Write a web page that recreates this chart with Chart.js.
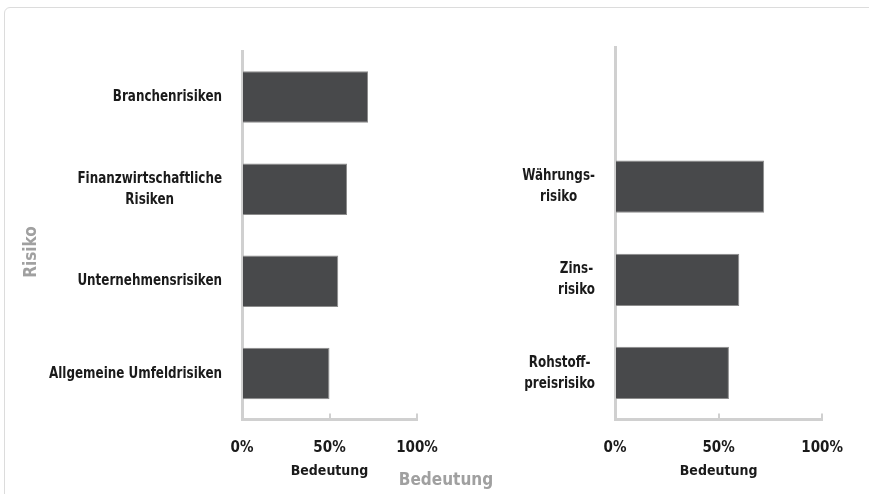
<!DOCTYPE html>
<html lang="de">
<head>
<meta charset="utf-8">
<title>Risiko und Bedeutung</title>
<script src="https://cdn.jsdelivr.net/npm/chart.js@4.4.1/dist/chart.umd.min.js"></script>
<style>
  html, body { margin: 0; padding: 0; background: #fff; }
  body {
    width: 869px; height: 494px; position: relative; overflow: hidden;
    font-family: 'Liberation Sans Narrow', 'DejaVu Sans Condensed', sans-serif;
  }
  .frame {
    position: absolute; left: 4px; top: 7px; width: 900px; height: 600px;
    border: 1px solid #dcdcdc; border-radius: 6px;
  }
  canvas { position: absolute; left: 0; top: 0; }
  .axis-title { position: absolute; color: #a0a0a0; font-weight: bold; text-align: center; white-space: nowrap; }
  #risiko {
    left: -20px; top: 242px; width: 100px; height: 20px; line-height: 20px;
    font-size: 17px; transform: rotate(-90deg);
  }
  #bedeutung { left: 346px; top: 468px; width: 200px; line-height: 22px; font-size: 17px; }
</style>
</head>
<body>
<div class="frame"></div>
<canvas id="leftChart" width="869" height="494" style="width:869px;height:494px"></canvas>
<canvas id="rightChart" width="869" height="494" style="width:869px;height:494px"></canvas>
<div class="axis-title" id="risiko">Risiko</div>
<div class="axis-title" id="bedeutung">Bedeutung</div>

<script>
// data
const leftCategories = [['Branchenrisiken'], ['Finanzwirtschaftliche', 'Risiken'], ['Unternehmensrisiken'], ['Allgemeine Umfeldrisiken']];
const leftValues = [72, 60, 55, 50];
const rightCategories = [[''], ['Währungs-', 'risiko'], ['Zins-', 'risiko'], ['Rohstoff-', 'preisrisiko']];
const rightValues = [null, 72, 60, 55];
const xTickValues = [0, 50, 100];
const xAxisLabel = 'Bedeutung';

const FONT = "'Liberation Sans Narrow', 'DejaVu Sans Condensed', sans-serif";
const TEXT = '#1a1a1a';
const AXIS = '#d0d0d0';

// category labels: block right-aligned to the axis, lines centred inside the block,
// squeezed a bit horizontally to look like the narrow font of the original
const centeredLabels = {
    id: 'centeredLabels',
    afterDraw(chart) {
        const yScale = chart.scales.y;
        const ctx = chart.ctx;
        const squeeze = 0.83;
        ctx.save();
        ctx.font = 'bold 16px ' + FONT;
        ctx.fillStyle = TEXT;
        ctx.textAlign = 'center';
        ctx.textBaseline = 'middle';
        chart.data.labels.forEach((lines, i) => {
            const widest = Math.max(...lines.map(l => ctx.measureText(l).width)) * squeeze;
            const cx = chart.chartArea.left - 20 - widest / 2;
            const cy = yScale.getPixelForValue(i);
            lines.forEach((line, j) => {
                ctx.save();
                ctx.translate(cx, cy + (j - (lines.length - 1) / 2) * 21);
                ctx.scale(squeeze, 1);
                ctx.fillText(line, 0, 0);
                ctx.restore();
            });
        });
        ctx.restore();
    }
};

function makeChart(id, labels, values, pad, yWidth) {
    return new Chart(document.getElementById(id).getContext('2d'), {
        type: 'bar',
        data: {
            labels: labels,
            datasets: [{
                data: values,
                backgroundColor: '#48494b',
                borderColor: '#8c8c8c',
                borderWidth: 1,
                barPercentage: 0.56,
                categoryPercentage: 1
            }]
        },
        options: {
            indexAxis: 'y',
            responsive: false,
            animation: false,
            events: [],
            layout: { padding: pad },
            plugins: {
                legend: { display: false },
                tooltip: { enabled: false }
            },
            scales: {
                x: {
                    type: 'linear',
                    min: 0,
                    max: 100,
                    afterBuildTicks: scale => { scale.ticks = xTickValues.map(v => ({ value: v })); },
                    afterFit: scale => { scale.height = 74.5; },
                    ticks: {
                        callback: v => v + '%',
                        color: TEXT,
                        font: { family: FONT, size: 15, weight: 'bold' },
                        padding: 26
                    },
                    grid: {
                        display: true,
                        drawOnChartArea: false,
                        drawTicks: true,
                        tickLength: -6,
                        color: AXIS,
                        lineWidth: 2
                    },
                    border: { display: true, color: AXIS, width: 3 },
                    title: {
                        display: true,
                        text: xAxisLabel,
                        color: TEXT,
                        font: { family: FONT, size: 14, weight: 'bold' },
                        padding: { top: 0, bottom: 14 }
                    }
                },
                y: {
                    afterFit: scale => { scale.width = yWidth; },
                    ticks: { display: false },
                    grid: { display: false },
                    border: { display: true, color: AXIS, width: 3 }
                }
            }
        },
        plugins: [centeredLabels]
    });
}

makeChart('leftChart', leftCategories, leftValues, { left: 10, top: 51, right: 452, bottom: 0 }, 232);
makeChart('rightChart', rightCategories, rightValues, { left: 10, top: 47, right: 35, bottom: 0 }, 605);
</script>
</body>
</html>
